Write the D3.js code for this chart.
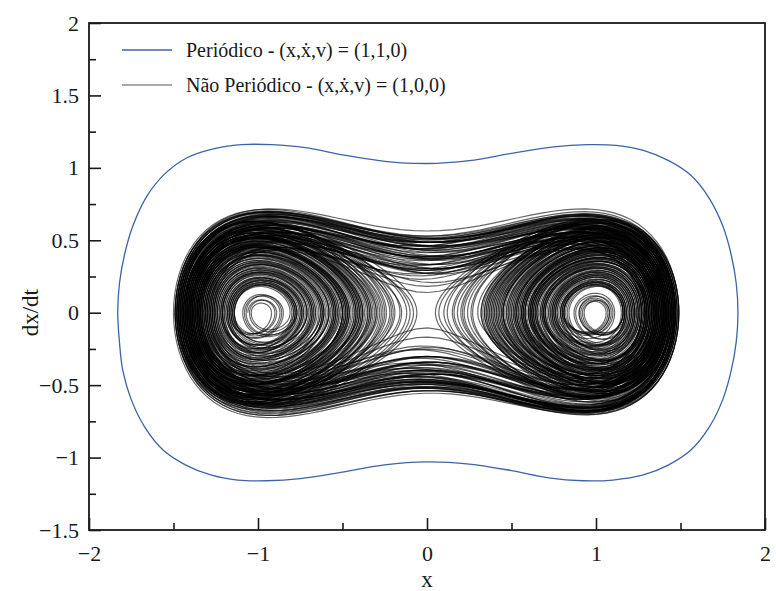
<!DOCTYPE html>
<html>
<head>
<meta charset="utf-8">
<script src="https://cdn.jsdelivr.net/npm/d3@7"></script>
<style>
  body { margin: 0; background: #fff; }
</style>
</head>
<body>
<div id="plot"></div>
<script>
// periodic orbit, points (clockwise from the left end)
const periodicX = [-1.83, -1.82, -1.79, -1.74, -1.66, -1.55, -1.42, -1.27, -1.10, -0.92, -0.72, -0.50, -0.25,
  0.00, 0.25, 0.50, 0.75, 0.95, 1.12, 1.28, 1.43, 1.56, 1.67, 1.75, 1.80, 1.83, 1.84,
  1.83, 1.80, 1.75, 1.67, 1.56, 1.43, 1.28, 1.10, 0.92, 0.72, 0.50, 0.25,
  0.00, -0.25, -0.50, -0.75, -0.95, -1.12, -1.28, -1.43, -1.56, -1.67, -1.75, -1.80, -1.82];
const periodicY = [0.00, 0.20, 0.40, 0.60, 0.80, 0.96, 1.07, 1.13, 1.16, 1.16, 1.14, 1.09, 1.045,
  1.03, 1.05, 1.10, 1.145, 1.16, 1.155, 1.12, 1.05, 0.95, 0.79, 0.60, 0.40, 0.20, 0.00,
  -0.20, -0.40, -0.60, -0.79, -0.95, -1.05, -1.12, -1.155, -1.16, -1.14, -1.09, -1.045,
  -1.03, -1.05, -1.10, -1.145, -1.16, -1.155, -1.12, -1.05, -0.95, -0.79, -0.60, -0.40, -0.20];

// non periodic run: successive x where dx/dt = 0 (left/right turning points)
const turnX = [
  -1.06, -0.90, -1.15, -0.79, -1.19, -0.74,
  -1.23, -0.69, -1.27, -0.62, -1.32, -0.53, -1.37, -0.43, -1.43, 1.41,
  0.56, 1.37, 0.48, 1.42, 0.37, 1.46, -1.42, 1.47, -1.46, -0.16,
  -1.41, -0.40, -1.37, -0.49, -1.34, -0.54, -1.38, -0.45, -1.43, -0.33,
  -1.48, 1.44, -1.40, 1.37, 0.60, 1.33, 0.65, 1.29, 0.71, 1.24,
  0.76, 1.20, 0.81, 1.16, 0.90, 1.08, 0.80, 1.17, 0.75, 1.21,
  0.69, 1.26, 0.62, 1.31, 0.54, 1.36, 0.45, 1.40, 0.34, 1.45,
  -1.44, -0.22, -1.40, -0.41, -1.35, -0.51, -1.31, -0.58, -1.26, -0.65,
  -1.22, -0.71, -1.18, -0.76, -1.14, -0.81, -1.04, -0.92,
  -1.17, -0.77, -1.21, -0.72, -1.25, -0.66, -1.29, -0.59, -1.34, -0.50,
  -1.39, -0.39, -1.45, 1.46, -1.47, 1.35, 0.63, 1.31, 0.57, 1.35,
  0.50, 1.39, 0.41, 1.43, 0.15, 1.48, -1.36, 1.30, -1.33, -0.55,
  -1.29, -0.60, -1.36, -0.49, -1.41, -0.38, -1.46, 1.43, 0.52, 1.39,
  0.46, 1.42, 0.39, 1.45, 0.50, 1.40, 0.58, 1.35, 0.66, 1.29,
  0.73, 1.23, 0.79, 1.18, 0.87, 1.11, 0.77, 1.19, 0.72, 1.24,
  0.64, 1.30, 0.55, 1.35, 0.43, 1.41, 0.32, 1.46, -1.49, 1.49,
  -1.44, 1.39, -1.31, -0.57, -1.35, -0.50, -1.40, -0.40, -1.45, -0.12,
  -1.47, 1.42, 0.58, 1.36, 0.51, 1.40, 0.44, 1.43, 0.36, 1.47,
  -1.39, 1.45, -1.42, -0.36, -1.38, -0.44, -1.34, -0.52, -1.30, -0.58,
  -1.27, -0.63, -1.23, -0.68, -1.20, -0.73, -1.16, -0.78,
  -1.08, -0.87, -1.15, -0.80, -1.19, -0.75, -1.24, -0.68,
  -1.28, -0.61, -1.33, -0.52, -1.38, -0.42, -1.42, -0.34, -1.46, 1.40,
  -1.34, 1.32, 0.64, 1.29, 0.70, 1.25, 0.75, 1.21, 0.81, 1.16,
  0.92, 1.06, 0.80, 1.17, 0.74, 1.22, 0.68, 1.27, 0.61, 1.32,
  0.53, 1.37, 0.42, 1.42, 0.24, 1.47, -1.45, 1.44, -1.48, 1.46,
  -1.40, -0.40, -1.36, -0.48, -1.32, -0.55, -1.37, -0.46, -1.42, -0.35,
  -1.47, 1.38, 0.59, 1.34, 0.53, 1.38, 0.47, 1.41, 0.40, 1.44,
  0.33, 1.47, -1.43, 1.33, -1.29, 1.29, 0.67, 1.27, 0.62, 1.31,
  0.56, 1.35, 0.49, 1.39, 0.38, 1.44, -1.37, -0.47, -1.33, -0.54,
  -1.28, -0.61, -1.24, -0.67, -1.21, -0.71, -1.17, -0.77,
  -1.09, -0.86, -1.16, -0.78,
  -1.22, -0.70, -1.26, -0.64, -1.31, -0.56, -1.36, -0.47, -1.41, -0.37,
  -1.45, 1.47, -1.50, 1.42, 0.57, 1.37, 0.61, 1.33, 0.67, 1.28,
  0.72, 1.23, 0.78, 1.19, 0.88, 1.09, 0.79, 1.18,
  0.73, 1.23, 0.65, 1.29, 0.57, 1.34, 0.48, 1.39, 0.39, 1.43,
  0.21, 1.49, -1.32, 1.36, -1.46, -0.30, -1.41, -0.39, -1.44, -0.32,
  -1.48, 1.41, -1.38, 1.48, 0.35, 1.45, 0.45, 1.40, 0.54, 1.36,
  0.62, 1.31, 0.69, 1.26, 0.74, 1.22, 0.79, 1.17, 0.91, 1.07,
  0.81, 1.15, 0.76, 1.20, 0.70, 1.25, 0.63, 1.30,
  0.56, 1.34, 0.47, 1.38, 0.37, 1.43, 0.26, 1.47, -1.41, 1.43,
  -1.47, -0.19, -1.42, -0.33, -1.39, -0.41, -1.35, -0.48, -1.31, -0.55,
  -1.27, -0.61, -1.24, -0.66, -1.20, -0.71, -1.17, -0.75, -1.14, -0.79,
  -1.05, -0.89, -1.14, -0.78, -1.18, -0.73,
  -1.22, -0.67, -1.26, -0.62, -1.30, -0.56, -1.35, -0.47, -1.39, -0.38,
  -1.44, -0.26, -1.48, 1.45, -1.43, 1.40, 0.55, 1.36, 0.49, 1.40,
  0.42, 1.43, 0.34, 1.46, -1.46, 1.48, -1.42, 1.34, -1.35, -0.50,
  -1.39, -0.42, -1.43, -0.28, -1.47, 1.39, 0.61, 1.35, 0.68, 1.30,
  0.74, 1.25, 0.80, 1.20, 0.84, 1.16, 0.93, 1.08, 0.81, 1.18,
  0.75, 1.23, 0.68, 1.28, 0.60, 1.33, 0.51, 1.38, 0.41, 1.42,
  0.18, 1.46, -1.40, 1.37, -1.27, 1.28, 0.69, 1.25, 0.64, 1.29,
  0.58, 1.33, 0.52, 1.37, 0.44, 1.41, 0.35, 1.44, -1.44, -0.29,
  -1.40, -0.38, -1.36, -0.46, -1.32, -0.53, -1.29, -0.58, -1.25, -0.63,
  -1.21, -0.69, -1.18, -0.74, -1.15, -0.77, -1.07, -0.85,
  -1.16, -0.74, -1.21, -0.68, -1.25, -0.62,
  -1.30, -0.54, -1.34, -0.46, -1.39, -0.35, -1.43, -0.20, -1.47, 1.44,
  -1.45, 1.41, -1.36, 1.33, 0.62, 1.30, 0.58, 1.34, 0.53, 1.38,
  0.45, 1.41, 0.36, 1.45, 0.27, 1.49, -1.43, 1.46, -1.49, 1.40,
  0.56, 1.36, 0.63, 1.31, 0.70, 1.26, 0.77, 1.21, 0.83, 1.16,
  0.90, 1.10, 0.82, 1.17, 0.76, 1.22, 0.69, 1.27, 0.61, 1.32,
  0.52, 1.37, 0.43, 1.41, 0.32, 1.45, 0.12, 1.49, -1.39, 1.47,
  -1.48, -0.24, -1.44, -0.34, -1.40, -0.43, -1.36, -0.50, -1.40, -0.42,
  -1.45, -0.27, -1.49, 1.43, -1.34, 1.38, -1.41, 1.31, 0.65, 1.27,
  0.60, 1.32, 0.40, 1.42, 0.10, 1.46, -1.33, 1.35, -1.38, 1.27,
  -1.26, 1.39, -1.41, -0.08, -1.47, -0.21, -1.43, -0.31, -1.45, 1.36,
  -1.37, 1.41, 0.07, 1.45, -1.28, 1.34, -1.39, 1.30, 0.45, 1.42,
  0.20, 1.48, -1.35, 1.40, -1.42, 1.33, -1.31, 1.38, -1.44, -0.10,
  -1.48, -0.25, -1.42, 1.36, -1.33, 1.27, 0.30, 1.44, 0.05, 1.47,
  -1.30, 1.41, -1.38, -0.15, -1.46, 1.32, -1.37, 1.39, -1.43, 1.35,
  -1.34, -0.48, -1.40, -0.30, -1.46, -0.06, -1.49, 1.37, -1.36, 1.42,
  0.16, 1.47, -1.40, 1.29, -1.28, 1.36, 0.38, 1.43, 0.22, 1.46,
  -1.38, 1.34, -1.41, 1.40, -1.35, 1.33
];

const xTicks = [-2, -1, 0, 1, 2];
const xMinor = [-1.5, -0.5, 0.5, 1.5];
const yTicks = [-1.5, -1, -0.5, 0, 0.5, 1, 1.5, 2];
const yMinor = [-1.25, -0.75, -0.25, 0.25, 0.75, 1.25, 1.75];

const legendLabels = ["Periódico - (x,ẋ,v) = (1,1,0)", "Não Periódico - (x,ẋ,v) = (1,0,0)"];
const legendColors = ["#3d64a6", "#8c8c8c"];

const serif = '"Liberation Serif", "Times New Roman", serif';
const width = 776, height = 591;
const margin = {top: 23, right: 11, bottom: 61, left: 89};

const xScale = d3.scaleLinear().domain([-2, 2]).range([margin.left, width - margin.right]);
const yScale = d3.scaleLinear().domain([-1.5, 2]).range([height - margin.bottom, margin.top]);

const svg = d3.select('#plot')
  .append('svg')
  .attr('width', width)
  .attr('height', height);

// shape of one half swing between two turning points (double well outline)
const V = (x) => x ** 4 / 4 - x ** 2 / 2;
const velScale = 0.738, kick = 0.17;

function swing(a, b, sign) {
  const lo = Math.min(a, b), hi = Math.max(a, b);
  const span = hi - lo;
  const d = lo < 0 && hi > 0 ? kick : kick * (span / 2) ** 2;
  const va = V(lo), vb = V(hi);
  const pts = [];
  for (let i = 0; i <= 60; i++) {
    const x = lo + span * (1 - Math.cos(Math.PI * i / 60)) / 2;
    const u = (x - lo) / span;
    const e = va + (vb - va) * u + d * 4 * u * (1 - u);
    pts.push([x, sign * velScale * Math.sqrt(Math.max(0, 2 * (e - V(x))))]);
  }
  return pts;
}

const swings = d3.pairs(turnX).map(([a, b]) => swing(a, b, b > a ? 1 : -1));

const line = d3.line()
  .x((d) => xScale(d[0]))
  .y((d) => yScale(d[1]));

svg.append('g')
  .selectAll('path')
  .data(swings)
  .enter()
  .append('path')
    .attr('d', line)
    .attr('fill', 'none')
    .attr('stroke', '#000')
    .attr('stroke-opacity', 0.6)
    .attr('stroke-width', 1.2);

// periodic orbit
const orbit = d3.line()
  .x((d, i) => xScale(periodicX[i]))
  .y((d, i) => yScale(periodicY[i]))
  .curve(d3.curveCatmullRomClosed);

svg.append('path')
  .attr('d', orbit(periodicX))
  .attr('fill', 'none')
  .attr('stroke', legendColors[0])
  .attr('stroke-width', 1.3);

// axes, ticks pointing inward
const plotBottom = height - margin.bottom;
const fmt = d3.format('~g');

svg.append('g')
  .attr('transform', `translate(0, ${plotBottom})`)
  .call(d3.axisBottom(xScale).tickValues(xTicks).tickFormat(fmt).tickSizeInner(-12).tickSizeOuter(0).tickPadding(15));
svg.append('g')
  .attr('transform', `translate(0, ${plotBottom})`)
  .call(d3.axisBottom(xScale).tickValues(xMinor).tickSizeInner(-7).tickSizeOuter(0).tickFormat(''));

svg.append('g')
  .attr('transform', `translate(${margin.left}, 0)`)
  .call(d3.axisLeft(yScale).tickValues(yTicks).tickFormat(fmt).tickSizeInner(-12).tickSizeOuter(0).tickPadding(10));
svg.append('g')
  .attr('transform', `translate(${margin.left}, 0)`)
  .call(d3.axisLeft(yScale).tickValues(yMinor).tickSizeInner(-7).tickSizeOuter(0).tickFormat(''));

svg.selectAll('.domain').remove();
svg.selectAll('.tick line').attr('stroke', '#1a1a1a').attr('stroke-width', 1.6);
svg.selectAll('.tick text')
  .style('font-family', serif)
  .style('font-size', '22px')
  .attr('fill', '#1a1a1a');

svg.append('rect')
  .attr('x', margin.left)
  .attr('y', margin.top)
  .attr('width', width - margin.left - margin.right)
  .attr('height', height - margin.top - margin.bottom)
  .attr('fill', 'none')
  .attr('stroke', '#1a1a1a')
  .attr('stroke-width', 1.8);

// axis titles
svg.append('text')
  .attr('x', xScale(0))
  .attr('y', 587)
  .attr('text-anchor', 'middle')
  .style('font-family', serif)
  .style('font-size', '23px')
  .attr('fill', '#1a1a1a')
  .text('x');

svg.append('text')
  .attr('transform', `translate(38, ${yScale(0)}) rotate(-90)`)
  .attr('text-anchor', 'middle')
  .style('font-family', serif)
  .style('font-size', '23px')
  .attr('fill', '#1a1a1a')
  .text('dx/dt');

// legend
const legend = svg.append('g');
legendLabels.forEach((label, i) => {
  const ly = 50 + i * 35;
  legend.append('line')
    .attr('x1', 122).attr('x2', 172)
    .attr('y1', ly).attr('y2', ly)
    .attr('stroke', legendColors[i])
    .attr('stroke-width', 1.3);
  legend.append('text')
    .attr('x', 186)
    .attr('y', ly + 7)
    .style('font-family', serif)
    .style('font-size', '20px')
    .attr('fill', '#1a1a1a')
    .text(label);
});
</script>
</body>
</html>
